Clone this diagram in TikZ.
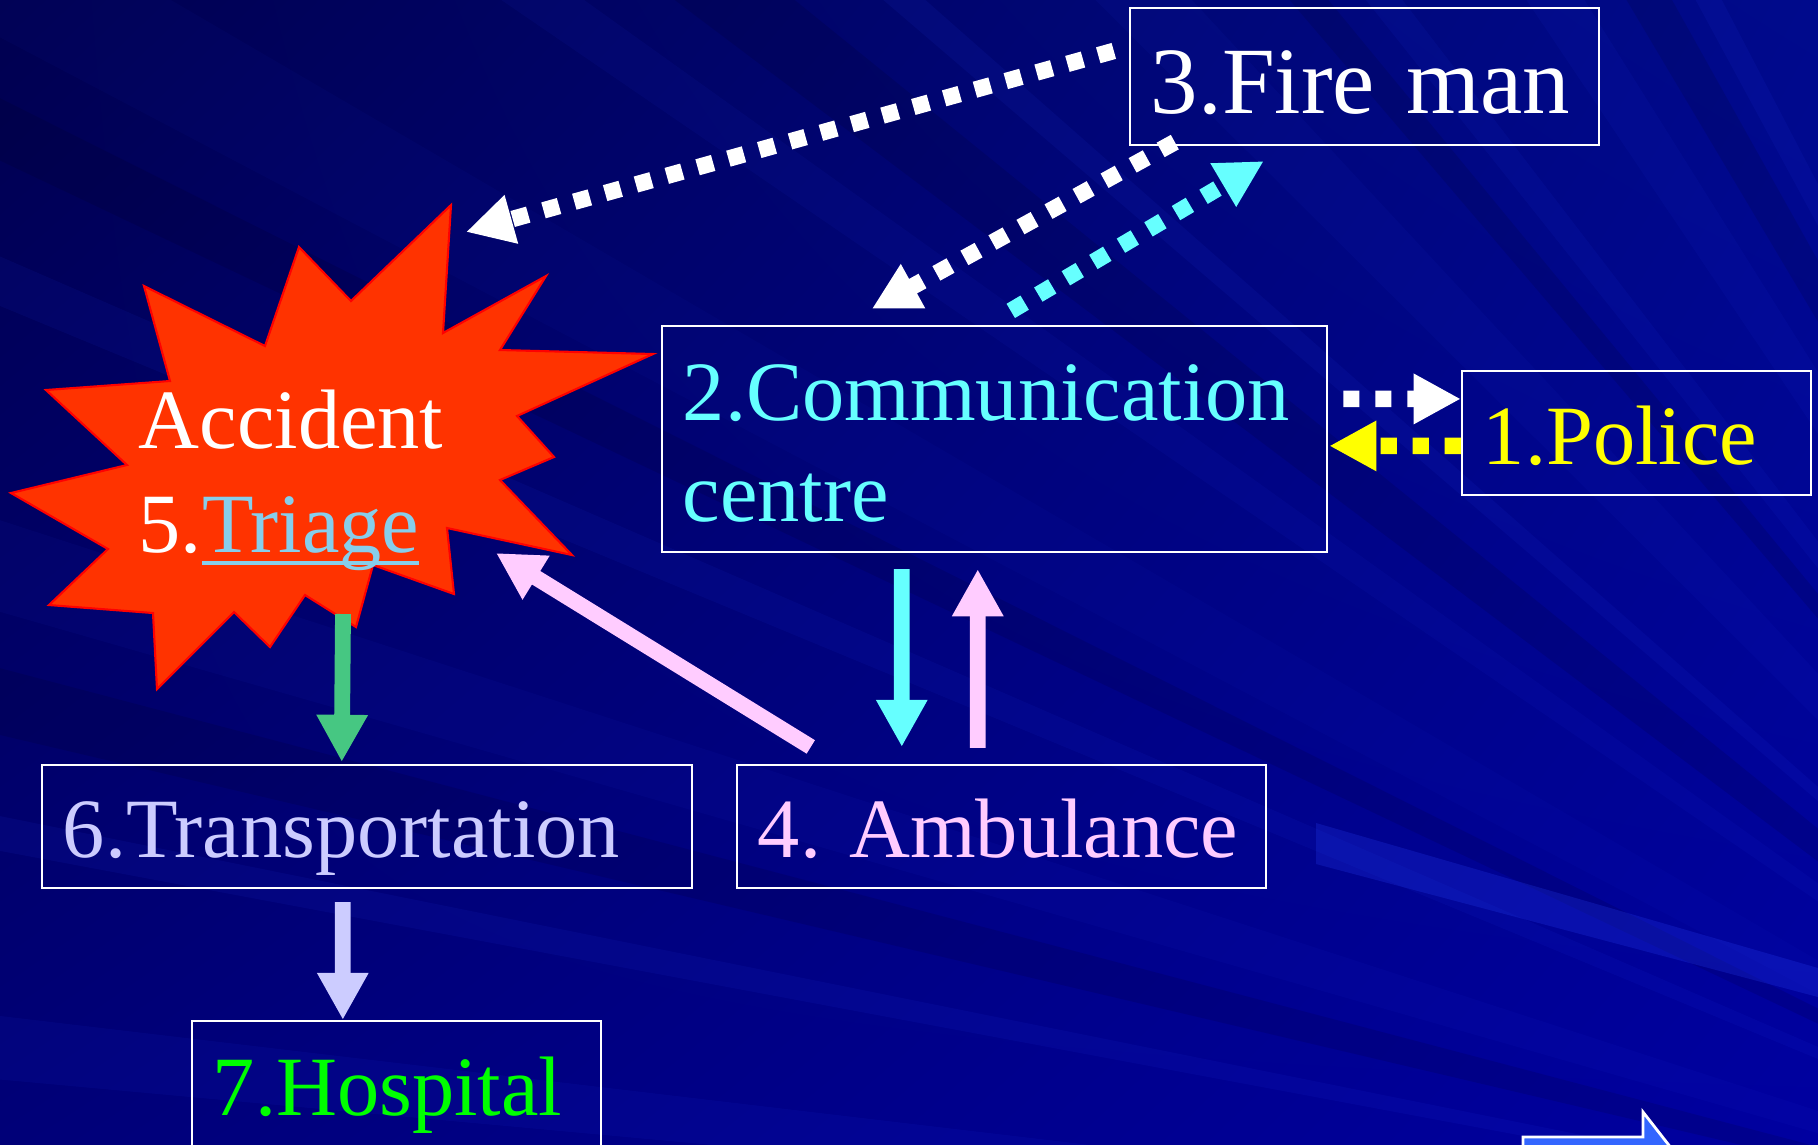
\documentclass[tikz,border=0pt]{standalone}
\usepackage{fontspec}
\setmainfont{Liberation Serif}
\usetikzlibrary{arrows.meta,calc,shadings}
\definecolor{bgA}{HTML}{000050}
\definecolor{bgB}{HTML}{000A8C}
\definecolor{bgC}{HTML}{000078}
\definecolor{bgD}{HTML}{0000A0}
\definecolor{rayc}{HTML}{2A46FF}
\definecolor{cyanc}{HTML}{66FFFF}
\definecolor{yellowc}{HTML}{FFFF00}
\definecolor{lavc}{HTML}{CCCCFF}
\definecolor{pinkc}{HTML}{FFCCFF}
\definecolor{hospc}{HTML}{00FF00}
\definecolor{greenc}{HTML}{46C782}
\definecolor{triagec}{RGB}{135,206,235}
\definecolor{starc}{HTML}{FF3300}
\definecolor{blockc}{HTML}{3366FF}
\newsavebox\ulbox
\newcommand\myul[1]{\sbox\ulbox{#1}\rlap{\rule[-0.155em]{\wd\ulbox}{0.05em}}\usebox\ulbox}
\begin{document}
\frenchspacing
\begin{tikzpicture}[x=0.01cm,y=-0.01cm,
  box/.style={draw=white, line width=0.6pt, rectangle, inner xsep=0.21cm, inner ysep=0pt,
    text depth=0pt, align=left, font=\fontsize{24}{29}\selectfont},
  dotarrow/.style={line width=4.7pt, dash pattern=on 4.6pt off 4.5pt,
    -{Triangle[length=13.4pt,width=13.4pt]}},
  solidarrow/.style={line width=4.5pt, -{Triangle[length=13.4pt,width=13.7pt]}}
]
\clip (0,0) rectangle (1818,1144);
% background
\shade[upper left=bgA, upper right=bgB, lower left=bgC, lower right=bgD] (0,0) rectangle (1818,1144);
\foreach \a/\w/\o in {186/1.5/0.07, 191/0.8/0.08, 197/2.0/0.05, 203/1.0/0.07, 209/2.5/0.04, 215/1.2/0.06,
                      221/0.8/0.08, 226/2.2/0.05, 232/1.0/0.07, 237/1.8/0.06, 242/0.9/0.08}
  \fill[rayc, opacity=\o, shift={(2400,1300)}] (0,0) -- ({\a-\w/2}:4200) -- ({\a+\w/2}:4200) -- cycle;
\foreach \a/\w in {194/1.5, 206/1.2, 218/2.0, 230/1.0, 240/1.5}
  \fill[black, opacity=0.10, shift={(2400,1300)}] (0,0) -- ({\a-\w/2}:4200) -- ({\a+\w/2}:4200) -- cycle;
\fill[rayc, opacity=0.22] (1316,823) -- (1818,968) -- (1818,997) -- (1316,864) -- cycle;

% starburst
\filldraw[fill=starc, draw=red, line width=0.6pt]
  (451,205) -- (443,333) -- (546,276) -- (500,350) -- (653,354) -- (517,416) -- (554,457)
  -- (500,480) -- (572,555) -- (447,528) -- (454,594) -- (373,565) -- (356,627) -- (305,595)
  -- (270,647) -- (234,612) -- (157,689) -- (153,613) -- (49,605) -- (108,549) -- (11,493)
  -- (127,465) -- (46,390) -- (170,381) -- (144,286) -- (265,346) -- (299,247) -- (351,301) -- cycle;
\node[anchor=base west, inner sep=0pt, text width=3.5cm, align=left, text=white,
  font=\fontsize{24}{29.6}\selectfont] (acc) at (138,448)
  {Accident\\5.{\color{triagec}\myul{Triage}}};
\coordinate (acctop) at (466,232);
\coordinate (acctri) at (496,553);
\coordinate (accbot) at (343,614);

% boxes
\node[box, text=white, font=\fontsize{27}{32}\selectfont, minimum width=4.69cm, minimum height=1.37cm,
  text width=4.27cm, text height=0.73cm] (fire) at (1364.5,76.5) {\mbox{3.Fire man}};
\node[box, text=cyanc, minimum width=6.65cm, minimum height=2.26cm,
  text width=6.23cm, text height=0.6cm, text depth=0.98cm] (comm) at (994.5,439) {\mbox{2.Communication}\\centre};
\node[box, text=yellowc, minimum width=3.49cm, minimum height=1.24cm,
  text width=3.07cm, text height=0.62cm] (police) at (1636.5,433) {\mbox{1.Police}};
\node[box, text=lavc, minimum width=6.50cm, minimum height=1.23cm,
  text width=6.08cm, text height=0.62cm] (trans) at (367,826.5) {\mbox{6.Transportation}};
\node[box, text=pinkc, minimum width=5.29cm, minimum height=1.23cm,
  text width=4.87cm, text height=0.62cm] (amb) at (1001.5,826.5) {\mbox{4. Ambulance}};
\node[box, text=hospc, minimum width=4.09cm, minimum height=1.59cm,
  text width=3.67cm, text height=0.29cm] (hosp) at (396.5,1100.5) {\mbox{7.Hospital}};

% dotted connectors
\draw[dotarrow, white] ($(fire.north west)+(-15,44)$) -- (acctop);
\draw[dotarrow, white] ($(fire.south west)+(46,-4)$) -- ($(comm.north west)+(211,-16)$);
\draw[dotarrow, cyanc] ($(comm.north west)+(350,-14)$) -- ($(fire.south west)+(135,15)$);
\draw[dotarrow, white] ($(comm.north east)+(15,74)$) -- ($(police.north west)+(0,29)$);
\draw[dotarrow, yellowc] ($(police.north west)+(0,76)$) -- ($(comm.north east)+(1,121)$);

% solid connectors
\draw[solidarrow, greenc] (accbot) -- ($(trans.north west)+(301,-2)$);
\draw[solidarrow, lavc] ($(trans.south west)+(302,13)$) -- ($(hosp.north west)+(152,0)$);
\draw[solidarrow, pinkc] ($(amb.north west)+(75,-17)$) -- (acctri);
\draw[solidarrow, cyanc] ($(comm.south west)+(241,16)$) -- ($(amb.north west)+(166,-17)$);
\draw[solidarrow, pinkc] ($(amb.north west)+(242,-16)$) -- ($(comm.south west)+(317,16)$);

% block arrow at the bottom right
\filldraw[fill=blockc, draw=white, line width=0.8pt]
  (1523,1137) -- (1643,1137) -- (1643,1112) -- (1700,1185) -- (1643,1258) -- (1643,1233) -- (1523,1233) -- cycle;
\end{tikzpicture}
\end{document}
